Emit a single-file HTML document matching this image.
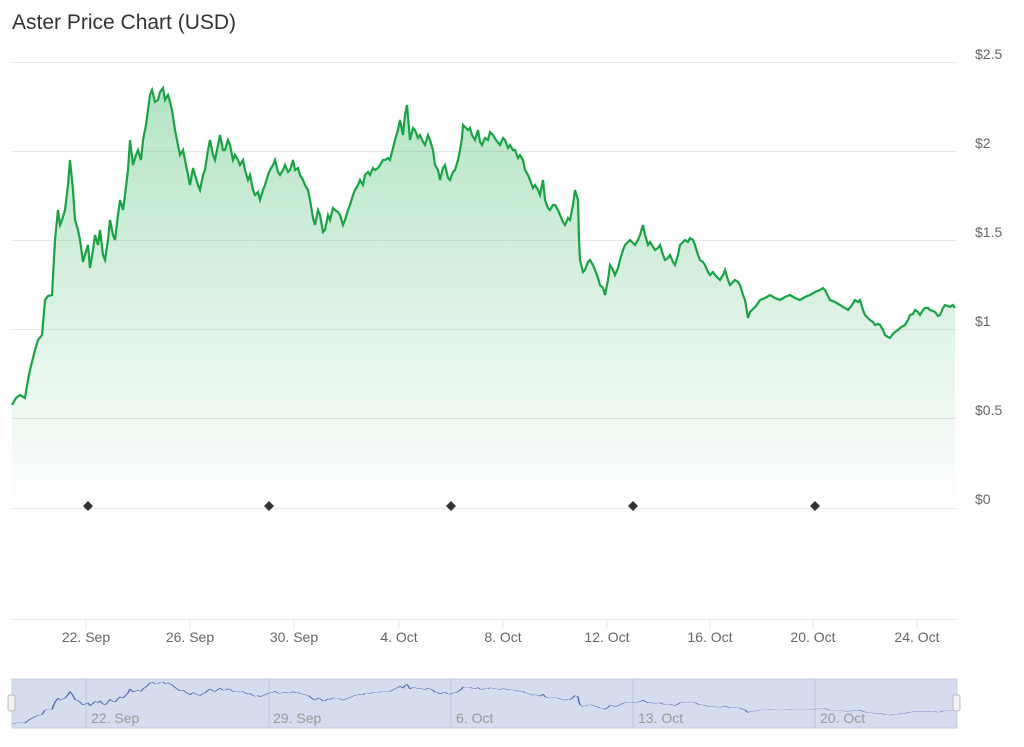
<!DOCTYPE html>
<html><head><meta charset="utf-8"><style>
html,body{margin:0;padding:0;background:#fff;width:1024px;height:747px;overflow:hidden;font-family:"Liberation Sans",sans-serif}
svg{display:block}
</style></head><body>
<svg width="1024" height="747" xmlns="http://www.w3.org/2000/svg" style="position:absolute;left:0;top:0">
<defs>
<linearGradient id="g" x1="0" y1="0" x2="0" y2="1"><stop offset="0" stop-color="#16a847" stop-opacity="0.32"/><stop offset="1" stop-color="#16a847" stop-opacity="0"/></linearGradient>
<polyline id="p" fill="none" points="12,405 16,398 20,395 25,398 28,380 30,370 35,350 38,340 42,335 45,300 48,296 52,295 55,240 58,210 60,225 62,220 65,210 68,185 70,160 73,190 75,220 78,230 80,240 83,262 85,255 88,245 90,268 93,250 95,235 98,245 100,230 103,255 105,260 108,240 110,220 113,235 115,240 118,215 120,200 123,210 125,195 128,170 130,140 133,165 136,155 138,150 141,160 143,140 146,125 148,110 150,95 152,90 155,102 158,100 160,92 163,88 165,100 168,95 170,102 172,110 175,130 177,140 180,155 183,150 185,160 188,175 190,185 193,168 195,175 198,185 200,190 203,175 205,170 208,150 210,140 213,155 215,160 218,145 220,135 223,150 225,150 228,140 230,145 233,160 235,155 238,160 240,165 243,160 245,170 248,180 250,175 253,190 255,195 258,192 260,200 263,190 265,185 268,175 270,170 273,165 275,160 278,172 280,175 283,170 285,165 288,172 290,170 293,160 295,170 298,168 300,175 303,180 305,185 308,190 310,200 313,218 315,225 318,210 320,215 323,232 325,230 328,215 330,220 333,208 335,210 338,212 340,215 343,225 345,220 348,210 350,205 353,195 355,190 358,185 360,180 363,185 365,175 368,172 370,175 373,168 375,170 378,168 380,165 383,160 385,160 388,158 390,160 393,148 395,140 398,130 400,120 403,135 405,115 407,105 410,140 413,128 415,130 418,138 420,135 423,142 425,145 428,135 430,140 433,150 435,165 438,170 440,180 443,168 445,165 448,178 450,180 453,172 455,170 458,160 460,150 462,138 463,125 466,128 468,130 470,128 472,135 475,140 478,130 480,142 482,145 485,138 488,140 490,132 493,135 496,140 500,145 503,138 505,140 508,148 510,145 513,150 515,150 518,158 520,155 523,160 525,170 528,175 530,180 533,188 535,185 538,190 540,195 543,180 545,200 548,208 550,210 553,205 555,205 558,210 560,215 563,222 565,225 568,218 570,220 573,205 575,190 578,200 579,240 580,260 583,272 585,270 588,262 590,260 593,265 595,270 598,278 600,285 603,288 605,295 608,280 610,265 613,270 615,275 618,268 620,260 623,250 625,245 628,242 630,240 633,243 635,245 638,240 640,235 643,225 645,235 648,245 650,242 655,250 658,248 660,245 663,255 665,260 668,258 670,255 673,262 675,265 678,255 680,245 683,242 685,240 688,242 690,238 693,240 695,245 698,255 700,260 703,262 705,265 708,272 710,275 713,272 715,275 718,278 720,280 723,275 725,270 728,280 730,285 733,282 735,280 738,282 740,285 743,295 745,300 748,318 750,312 752,310 756,306 760,300 765,298 770,295 775,298 780,300 785,297 790,295 795,298 800,300 805,297 810,295 815,292 820,290 823,288 825,290 828,296 830,300 835,302 840,305 845,308 848,310 852,305 855,300 858,302 860,300 863,310 865,315 868,318 870,320 873,322 875,325 878,324 880,325 883,330 885,335 888,337 890,338 893,334 895,332 898,330 900,328 903,326 905,325 908,320 910,315 913,314 915,310 918,312 920,315 923,310 925,308 928,308 930,310 933,311 935,312 938,316 940,315 943,308 945,305 948,306 950,307 953,305 955,308"/>
</defs>
<text x="12" y="29" font-size="21" fill="#333">Aster Price Chart (USD)</text>
<g stroke="#e9e9e9" stroke-width="1">
<line x1="12" y1="62.5" x2="957" y2="62.5"/><line x1="12" y1="151.5" x2="957" y2="151.5"/><line x1="12" y1="240.5" x2="957" y2="240.5"/><line x1="12" y1="329.5" x2="957" y2="329.5"/><line x1="12" y1="418.5" x2="957" y2="418.5"/><line x1="12" y1="508.5" x2="957" y2="508.5"/><line x1="12" y1="619.5" x2="957" y2="619.5"/>
</g>
<g font-size="14" fill="#666">
<text x="975" y="59">$2.5</text><text x="975" y="148">$2</text><text x="975" y="237">$1.5</text><text x="975" y="326">$1</text><text x="975" y="415">$0.5</text><text x="975" y="504">$0</text>
</g>
<g id="fillstack"></g>
<use href="#p" stroke="#17a443" stroke-width="2.2"/>
<g fill="#333">
<polygon points="88,501 93,506 88,511 83,506"/><polygon points="269,501 274,506 269,511 264,506"/><polygon points="451,501 456,506 451,511 446,506"/><polygon points="633,501 638,506 633,511 628,506"/><polygon points="815,501 820,506 815,511 810,506"/>
</g>
<g stroke="#e9e9e9"><line x1="86" y1="619" x2="86" y2="629"/><line x1="190" y1="619" x2="190" y2="629"/><line x1="294" y1="619" x2="294" y2="629"/><line x1="399" y1="619" x2="399" y2="629"/><line x1="503" y1="619" x2="503" y2="629"/><line x1="607" y1="619" x2="607" y2="629"/><line x1="710" y1="619" x2="710" y2="629"/><line x1="813" y1="619" x2="813" y2="629"/><line x1="917" y1="619" x2="917" y2="629"/></g>
<g font-size="14" fill="#666" text-anchor="middle">
<text x="86" y="642">22. Sep</text><text x="190" y="642">26. Sep</text><text x="294" y="642">30. Sep</text><text x="399" y="642">4. Oct</text><text x="503" y="642">8. Oct</text><text x="607" y="642">12. Oct</text><text x="710" y="642">16. Oct</text><text x="813" y="642">20. Oct</text><text x="917" y="642">24. Oct</text>
</g>
<rect x="12" y="679" width="945" height="49" fill="#d5dcee" stroke="#c5cde0"/>
<g stroke="#bcc4d8"><line x1="86" y1="679" x2="86" y2="728"/><line x1="269" y1="679" x2="269" y2="728"/><line x1="451" y1="679" x2="451" y2="728"/><line x1="633" y1="679" x2="633" y2="728"/><line x1="815" y1="679" x2="815" y2="728"/></g>
<g font-size="14" fill="#999">
<text x="91" y="723">22. Sep</text><text x="273" y="723">29. Sep</text><text x="456" y="723">6. Oct</text><text x="638" y="723">13. Oct</text><text x="820" y="723">20. Oct</text>
</g>
<g transform="translate(0,670.3) scale(1,0.1325)"><use href="#p" stroke="#4a66b0" stroke-width="1.5" style="vector-effect:non-scaling-stroke"/></g>
<rect x="8" y="695" width="7" height="16" rx="2" fill="#f2f2f2" stroke="#bbb"/>
<rect x="953" y="695" width="7" height="16" rx="2" fill="#f2f2f2" stroke="#bbb"/>
</svg>
<script>
(function(){
var p=document.getElementById('p');var pts=p.getAttribute('points');
var poly=document.createElementNS('http://www.w3.org/2000/svg','polygon');
poly.setAttribute('points',pts+' 955,508 12,508');
poly.setAttribute('fill','url(#g)');
document.getElementById('fillstack').appendChild(poly);
})();
</script>
</body></html>
